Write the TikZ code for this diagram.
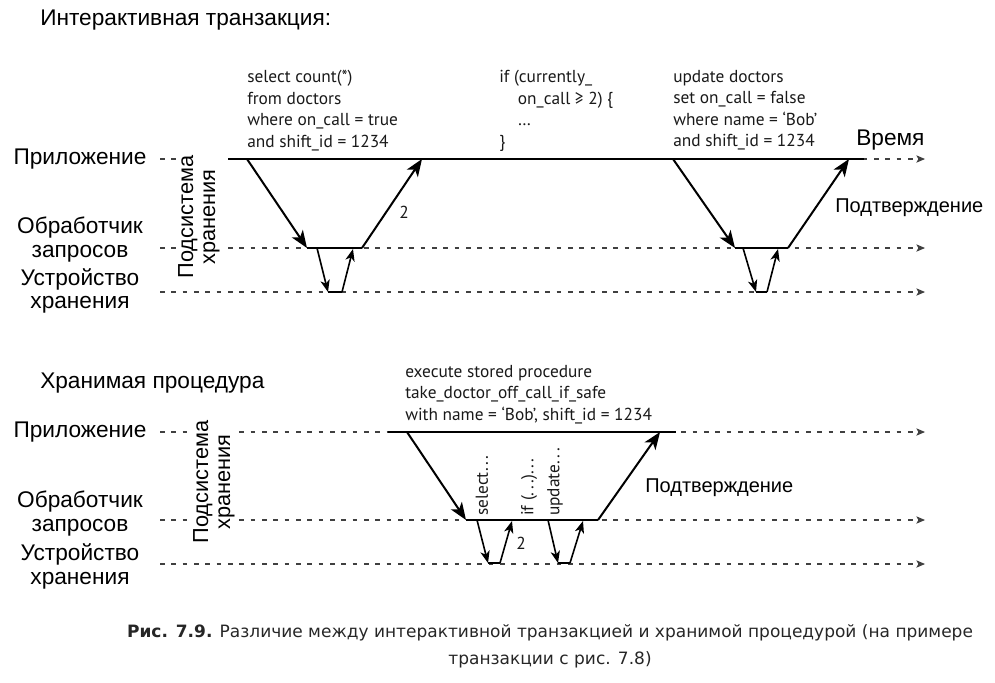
\documentclass[tikz,border=0pt]{standalone}
\usepackage{fontspec}
\setmainfont{Liberation Sans}
\newfontfamily\codefont{PT Sans}
\newfontfamily\capfont{DejaVu Sans}
\usetikzlibrary{arrows.meta}
\newcommand\spdots{.\kern2pt.\kern2pt.}

\begin{document}
\begin{tikzpicture}[x=0.75pt,y=0.75pt,yscale=-1,xscale=1,
  lane/.style={draw=black!75,line width=0.8pt,dash pattern=on 3.5pt off 5pt,-{Stealth[length=6.5pt,width=5.5pt,inset=1.5pt]}},
  base/.style={line width=1.5pt},
  flow/.style={line width=1.5pt,-{Stealth[length=13pt,width=10pt,inset=3.5pt]}},
  flowsm/.style={line width=1.2pt,-{Stealth[length=9pt,width=7pt,inset=2.5pt]}},
  lbl/.style={inner sep=0pt,align=center,font=\fontsize{17}{17.5}\selectfont},
  ack/.style={inner sep=0pt,anchor=west,font=\fontsize{15}{17}\selectfont},
  vlbl/.style={lbl,rotate=90,fill=white,inner sep=1pt,font=\fontsize{16.3}{16.5}\selectfont},
  code/.style={anchor=north west,inner sep=0pt,align=left,text=black!90,font=\codefont\fontsize{13}{16.1}\selectfont},
  vcode/.style={anchor=west,inner sep=0pt,rotate=90,text=black!90,font=\codefont\fontsize{13}{14}\selectfont}
]
\useasboundingbox (0,0) rectangle (995,682);

% interactive transaction
\node [lbl,anchor=west] (title1) at (40,20) {Интерактивная транзакция:};
\node [lbl] (app1) at (80,159) {Приложение};
\node [lbl] (qp1) at (80,239.5) {Обработчик\\запросов};
\node [lbl] (st1) at (80,291) {Устройство\\хранения};

\coordinate (a1s) at (160,159); \coordinate (a1e) at (925,159);
\coordinate (q1s) at (160,248); \coordinate (q1e) at (925,248);
\coordinate (s1s) at (160,292); \coordinate (s1e) at (925,292);
\draw [lane] (a1s) -- (a1e);
\draw [lane] (q1s) -- (q1e);
\draw [lane] (s1s) -- (s1e);
\node [vlbl] (sub1) at (199,217) {Подсистема\\хранения};

\coordinate (t1s) at (228,159); \coordinate (t1e) at (864,159);
\draw [base] (t1s) -- (t1e);

\coordinate (p1) at (247,159); \coordinate (p2) at (307,248);
\coordinate (p3) at (362,248); \coordinate (p4) at (422,159);
\coordinate (p5) at (317,248); \coordinate (p6) at (328,292);
\coordinate (p7) at (342,292); \coordinate (p8) at (353,249);
\draw [flow] (p1) -- (p2);
\draw [base] (p2) -- (p3);
\draw [flow] (p3) -- (p4);
\draw [flowsm] (p5) -- (p6);
\draw [base,line width=1.2pt] (p6) -- (p7);
\draw [flowsm] (p7) -- (p8);
\node [code,anchor=center] (two1) at (404,212) {2};

\coordinate (r1) at (673,159); \coordinate (r2) at (735,248);
\coordinate (r3) at (788,248); \coordinate (r4) at (849,159);
\coordinate (r5) at (743,248); \coordinate (r6) at (756,292);
\coordinate (r7) at (767,292); \coordinate (r8) at (778,249);
\draw [flow] (r1) -- (r2);
\draw [base] (r2) -- (r3);
\draw [flow] (r3) -- (r4);
\draw [flowsm] (r5) -- (r6);
\draw [base,line width=1.2pt] (r6) -- (r7);
\draw [flowsm] (r7) -- (r8);

\node [code] (code1) at (247,70) {select count(*)\\from doctors\\where on\_call = true\\and shift\_id = 1234};
\node [code] (code2) at (499,70) {if (currently\_\\\hspace*{14pt}on\_call ≥ 2) \{\\\hspace*{14pt}…\\\}};
\node [code] (code3) at (673,70) {update doctors\\set on\_call = false\\where name = ‘Bob’\\and shift\_id = 1234};
\node [lbl,anchor=west] (time) at (856,140) {Время};
\node [ack] (ack1) at (835,208) {Подтверждение};

% stored procedure
\node [lbl,anchor=west] (title2) at (40,383) {Хранимая процедура};
\node [lbl] (app2) at (80,432) {Приложение};
\node [lbl] (qp2) at (80,513.5) {Обработчик\\запросов};
\node [lbl] (st2) at (80,566.5) {Устройство\\хранения};

\coordinate (a2s) at (160,432); \coordinate (a2e) at (925,432);
\coordinate (q2s) at (160,520); \coordinate (q2e) at (925,520);
\coordinate (s2s) at (160,564); \coordinate (s2e) at (925,564);
\draw [lane] (a2s) -- (a2e);
\draw [lane] (q2s) -- (q2e);
\draw [lane] (s2s) -- (s2e);
\node [vlbl] (sub2) at (214,482) {Подсистема\\хранения};

\coordinate (t2s) at (388,432); \coordinate (t2e) at (676,432);
\draw [base] (t2s) -- (t2e);

\coordinate (b1) at (407,432); \coordinate (b2) at (466,520);
\coordinate (b3) at (598,520); \coordinate (b4) at (660,432);
\draw [flow] (b1) -- (b2);
\draw [base] (b2) -- (b3);
\draw [flow] (b3) -- (b4);

\coordinate (c1) at (477,520); \coordinate (c2) at (488,563);
\coordinate (c3) at (500,563); \coordinate (c4) at (512,521);
\coordinate (d1) at (548,520); \coordinate (d2) at (558,563);
\coordinate (d3) at (570,563); \coordinate (d4) at (583,521);
\draw [flowsm] (c1) -- (c2);
\draw [base,line width=1.2pt] (c2) -- (c3);
\draw [flowsm] (c3) -- (c4);
\draw [flowsm] (d1) -- (d2);
\draw [base,line width=1.2pt] (d2) -- (d3);
\draw [flowsm] (d3) -- (d4);
\node [code,anchor=center] (two2) at (521,543) {2};

\node [vcode] (sel) at (482,516) {select\spdots};
\node [vcode] (iff) at (529,516) {if (\spdots)\spdots};
\node [vcode] (upd) at (555,516) {update\spdots};

\node [code] (code4) at (405,365) {execute stored procedure\\take\_doctor\_off\_call\_if\_safe\\with name = ‘Bob’, shift\_id = 1234};
\node [ack] (ack2) at (645,488) {Подтверждение};

% caption
\node [inner sep=0pt,align=center,text=black!85,font=\capfont\fontsize{12.75}{20}\selectfont] (caption) at (550,646)
  {{\bfseries Рис. 7.9.} Различие между интерактивной транзакцией и хранимой процедурой (на примере\\транзакции с рис. 7.8)};
\end{tikzpicture}
\end{document}
